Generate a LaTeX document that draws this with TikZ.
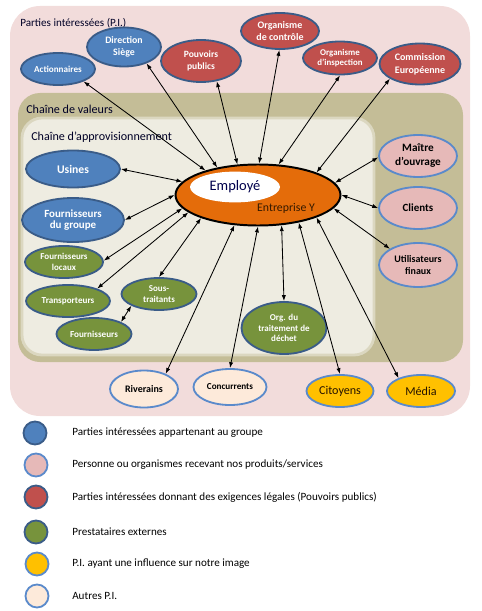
\documentclass[tikz,border=0pt]{standalone}
\usepackage{fontspec}
\setmainfont{Carlito}
\usetikzlibrary{shapes.geometric,arrows.meta}
\newlength\px
\setlength\px{0.025cm}
\newcommand\taille[2]{\fontsize{#1}{#2}\selectfont}
\definecolor{fondpi}{HTML}{F2DCDB}
\definecolor{fondvaleur}{HTML}{C4BD97}
\definecolor{fondappro}{HTML}{EEECE1}
\definecolor{bleupi}{HTML}{4F81BD}
\definecolor{bordfonce}{HTML}{3A5C88}
\definecolor{bordclair}{HTML}{5A8ACB}
\definecolor{rougepi}{HTML}{C0504D}
\definecolor{vertpi}{HTML}{77933C}
\definecolor{rosepi}{HTML}{E6B9B8}
\definecolor{jaunepi}{HTML}{FFC000}
\definecolor{cremepi}{HTML}{FDEADA}
\definecolor{orangepi}{HTML}{E46C0A}
\tikzset{
  pi/.style={ellipse, inner sep=0pt, line width=1.3pt, align=center,
    font=\bfseries\taille{6.5}{8.5}},
  pigroupe/.style={pi, fill=bleupi, draw=bordfonce, text=white},
  piclient/.style={pi, fill=rosepi, draw=bordclair, text=black},
  pilegal/.style={pi, fill=rougepi, draw=bordfonce, text=white},
  piexterne/.style={pi, fill=vertpi, draw=bordfonce, text=white},
  piimage/.style={pi, fill=jaunepi, draw=bordclair, text=black!85!orange,
    font=\taille{8.6}{10}},
  piautre/.style={pi, fill=cremepi, draw=bordclair, text=black},
  lien/.style={{Latex[length=4.2pt,width=3pt]}-{Latex[length=4.2pt,width=3pt]}, line width=0.6pt},
  titre/.style={anchor=west, inner sep=0pt, text=black!85!blue, font=\taille{8.6}{10}},
  puce/.style={circle, minimum size=23\px, inner sep=0pt},
  legende/.style={anchor=west, inner sep=0pt, font=\taille{7.9}{9}}
}
\begin{document}
\begin{tikzpicture}[x=\px, y=-\px]
\useasboundingbox (0,0) rectangle (481,611);
% cadres
\fill[fondpi, rounded corners=30\px] (10,6) rectangle (470,416);
\fill[fondvaleur, rounded corners=22\px] (18,93) rectangle (463,362);
\filldraw[fill=fondappro, draw=fondappro!55!fondvaleur, line width=2pt, rounded corners=20\px] (22,118) rectangle (374,355);
\node[titre, font=\taille{7.9}{9}] (tpi) at (20,23) {Parties intéressées (P.I.)};
\node[titre] (tval) at (26,109) {Chaîne de valeurs};
\node[titre] (tappro) at (31,137) {Chaîne d'approvisionnement};

% entreprise
\node[ellipse, fill=orangepi, draw=black, line width=1.4pt, minimum width=165\px, minimum height=61\px] (ent) at (258,195) {};
\node[ellipse, fill=white, minimum width=90\px, minimum height=29\px, text=blue!30!black, font=\taille{10.3}{11}] (emp) at (235,187) {Employé};
\node[inner sep=0pt, text=black!80!orange, font=\taille{8.4}{9}] (entlbl) at (286,208) {Entreprise Y};

% parties interessees
\node[pigroupe, minimum width=74\px, minimum height=32\px] (act) at (58,69) {Actionnaires};
\node[pigroupe, minimum width=74\px, minimum height=39\px, font=\bfseries\taille{7}{8.6}] (dir) at (124,47) {Direction\\Siège};
\node[pilegal, minimum width=80\px, minimum height=42\px, font=\bfseries\taille{6.8}{8.6}] (pp) at (201,61) {Pouvoirs\\publics};
\node[pilegal, minimum width=78\px, minimum height=36\px, font=\bfseries\taille{7.1}{8.6}] (ctrl) at (280,31) {Organisme\\de contrôle};
\node[pilegal, minimum width=74\px, minimum height=33\px, font=\bfseries\taille{6.3}{7.6}] (insp) at (340,58) {Organisme\\d'inspection};
\node[pilegal, minimum width=81\px, minimum height=41\px, font=\bfseries\taille{7.1}{9.2}] (ce) at (420,64) {Commission\\Européenne};
\node[piclient, minimum width=78\px, minimum height=42\px, font=\bfseries\taille{8}{10}] (mo) at (418,156) {Maître\\d'ouvrage};
\node[piclient, minimum width=78\px, minimum height=42\px, font=\bfseries\taille{7.8}{9}] (cli) at (418,208) {Clients};
\node[piclient, minimum width=78\px, minimum height=44\px, font=\bfseries\taille{7.1}{8.6}] (uf) at (418,265) {Utilisateurs\\finaux};
\node[pigroupe, minimum width=94\px, minimum height=37\px, font=\bfseries\taille{8.3}{9}] (us) at (73,169) {Usines};
\node[pigroupe, minimum width=102\px, minimum height=44\px, font=\bfseries\taille{7.8}{8}] (fg) at (73,220) {Fournisseurs\\du groupe};
\node[piexterne, minimum width=78\px, minimum height=32\px, font=\bfseries\taille{6.4}{7.8}] (fl) at (64,262) {Fournisseurs\\locaux};
\node[piexterne, minimum width=84\px, minimum height=32\px] (tr) at (68,301) {Transporteurs};
\node[piexterne, minimum width=75\px, minimum height=32\px, font=\bfseries\taille{6.4}{8}] (st) at (159,294) {Sous-\\traitants};
\node[piexterne, minimum width=75\px, minimum height=32\px] (fo) at (94,334) {Fournisseurs};
\node[piexterne, minimum width=85\px, minimum height=52\px, font=\bfseries\taille{6.4}{7.6}] (dech) at (284,328) {Org. du\\traitement de\\déchet};
\node[piautre, minimum width=68\px, minimum height=37\px, font=\bfseries\taille{7.1}{8}] (riv) at (144,389) {Riverains};
\node[piautre, minimum width=73\px, minimum height=36\px] (conc) at (230,387) {Concurrents};
\node[piimage, minimum width=67\px, minimum height=32\px] (cit) at (340,391) {Citoyens};
\node[piimage, minimum width=68\px, minimum height=32\px] (med) at (421,391) {Média};

% liens
\draw[lien] (act.-26) -- (ent.155);
\draw[lien] (dir.-36) -- (ent.146);
\draw[lien] (pp.-52) -- (ent.124);
\draw[lien] (ctrl.-92) -- (ent.88);
\draw[lien] (insp.-90) -- (ent.56);
\draw[lien] (ce.-154) -- (ent.21);
\draw[lien] (mo.-178) -- (ent.9);
\draw[lien] (cli.180) -- (ent.0);
\draw[lien] (uf.150) -- (ent.-10);
\draw[lien] (med.150) -- (ent.-21);
\draw[lien] (cit.90) -- (ent.-34);
\draw[lien] (dech.90) -- (ent.-52);
\draw[lien] (conc.90) -- (ent.-90);
\draw[lien] (riv.35) -- (ent.-128);
\draw[lien] (st.90) -- (ent.-158);
\draw[lien] (tr.23) -- (ent.-166);
\draw[lien] (fl.2) -- (ent.-170);
\draw[lien] (fg.0) -- (ent.180);
\draw[lien] (us.0) -- (ent.170);
\draw[lien] (fo.24) -- (st.-157);

% legende
\node[puce, fill=bleupi, draw=bordfonce, line width=1.3pt] (l1) at (35,433) {};
\node[puce, fill=rosepi, draw=bordclair, line width=1.3pt] (l2) at (36,465) {};
\node[puce, fill=rougepi, draw=bordfonce, line width=1.3pt] (l3) at (36,497) {};
\node[puce, fill=vertpi, draw=bordfonce, line width=1.3pt] (l4) at (36,532) {};
\node[puce, fill=jaunepi, draw=bordclair, line width=1.3pt] (l5) at (37,564) {};
\node[puce, fill=cremepi, draw=bordclair, line width=1.3pt] (l6) at (37,596) {};
\node[legende] at (72,433) {Parties intéressées appartenant au groupe};
\node[legende] at (72,465) {Personne ou organismes recevant nos produits/services};
\node[legende] at (72,497) {Parties intéressées donnant des exigences légales (Pouvoirs publics)};
\node[legende] at (72,532) {Prestataires externes};
\node[legende] at (72,564) {P.I. ayant une influence sur notre image};
\node[legende] at (72,596) {Autres P.I.};
\end{tikzpicture}
\end{document}
